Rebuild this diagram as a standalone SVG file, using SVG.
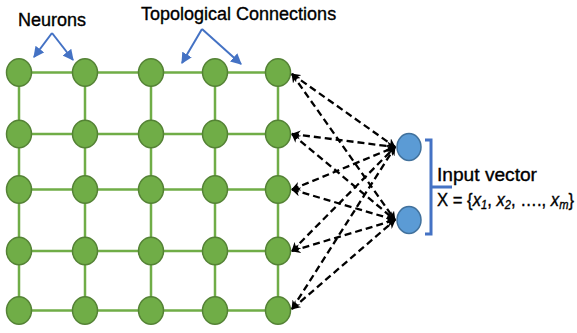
<svg xmlns="http://www.w3.org/2000/svg" width="577" height="333" viewBox="0 0 577 333">
<style>
.grid{stroke:#70AD47;stroke-width:2.5;fill:none}
.n{fill:#70AD47;stroke:#548235;stroke-width:1.5}
.in{fill:#5B9BD5;stroke:#41719C;stroke-width:1.5}
.d{stroke:#000;stroke-width:2.3;stroke-dasharray:7,4;fill:none;marker-start:url(#ah);marker-end:url(#ah)}
.b{stroke:#4472C4;stroke-width:2;fill:none;marker-end:url(#ba)}
.t{font-family:"Liberation Sans",Arial,sans-serif;font-size:18px;fill:#000;stroke:#000;stroke-width:0.35}
</style>
<defs>
<marker id="ah" viewBox="0 0 10 10" refX="9" refY="5" markerWidth="4" markerHeight="4" orient="auto-start-reverse" markerUnits="strokeWidth">
<path d="M0,0 L10,5 L0,10 L3,5 Z" fill="#000"/>
</marker>
<marker id="ba" viewBox="0 0 10 10" refX="9" refY="5" markerWidth="5.5" markerHeight="5.5" orient="auto" markerUnits="strokeWidth">
<path d="M0,0 L10,5 L0,10 Z" fill="#4472C4"/>
</marker>
</defs>
<g id="grid-lines">
<path class="grid" d="M19,72.5H278M19,134H278M19,189.5H278M19,251H278M19,310.5H278"/>
<path class="grid" d="M19,72.5V310.5M85,72.5V310.5M151,72.5V310.5M215,72.5V310.5M278,72.5V310.5"/>
</g>
<g id="connectors">
<line class="d" x1="292" y1="74" x2="395" y2="147"/>
<line class="d" x1="292" y1="74" x2="395" y2="220"/>
<line class="d" x1="292" y1="134" x2="395" y2="147"/>
<line class="d" x1="292" y1="134" x2="395" y2="220"/>
<line class="d" x1="292" y1="189.5" x2="395" y2="147"/>
<line class="d" x1="292" y1="189.5" x2="395" y2="220"/>
<line class="d" x1="292" y1="251" x2="395" y2="147"/>
<line class="d" x1="292" y1="251" x2="395" y2="220"/>
<line class="d" x1="292" y1="309" x2="395" y2="147"/>
<line class="d" x1="292" y1="309" x2="395" y2="220"/>
<path class="b" d="M52,33L34,57"/>
<path class="b" d="M52,33L73,60"/>
<path class="b" d="M202,29L182,63"/>
<path class="b" d="M202,29L241,64"/>
</g>
<g id="neurons">
<ellipse class="n" cx="19" cy="72.5" rx="12.5" ry="13.7"/>
<ellipse class="n" cx="85" cy="72.5" rx="12.5" ry="13.7"/>
<ellipse class="n" cx="151" cy="72.5" rx="12.5" ry="13.7"/>
<ellipse class="n" cx="215" cy="72.5" rx="12.5" ry="13.7"/>
<ellipse class="n" cx="278" cy="72.5" rx="12.5" ry="13.7"/>
<ellipse class="n" cx="19" cy="134" rx="12.5" ry="13.7"/>
<ellipse class="n" cx="85" cy="134" rx="12.5" ry="13.7"/>
<ellipse class="n" cx="151" cy="134" rx="12.5" ry="13.7"/>
<ellipse class="n" cx="215" cy="134" rx="12.5" ry="13.7"/>
<ellipse class="n" cx="278" cy="134" rx="12.5" ry="13.7"/>
<ellipse class="n" cx="19" cy="189.5" rx="12.5" ry="13.7"/>
<ellipse class="n" cx="85" cy="189.5" rx="12.5" ry="13.7"/>
<ellipse class="n" cx="151" cy="189.5" rx="12.5" ry="13.7"/>
<ellipse class="n" cx="215" cy="189.5" rx="12.5" ry="13.7"/>
<ellipse class="n" cx="278" cy="189.5" rx="12.5" ry="13.7"/>
<ellipse class="n" cx="19" cy="251" rx="12.5" ry="13.7"/>
<ellipse class="n" cx="85" cy="251" rx="12.5" ry="13.7"/>
<ellipse class="n" cx="151" cy="251" rx="12.5" ry="13.7"/>
<ellipse class="n" cx="215" cy="251" rx="12.5" ry="13.7"/>
<ellipse class="n" cx="278" cy="251" rx="12.5" ry="13.7"/>
<ellipse class="n" cx="19" cy="310.5" rx="12.5" ry="13.7"/>
<ellipse class="n" cx="85" cy="310.5" rx="12.5" ry="13.7"/>
<ellipse class="n" cx="151" cy="310.5" rx="12.5" ry="13.7"/>
<ellipse class="n" cx="215" cy="310.5" rx="12.5" ry="13.7"/>
<ellipse class="n" cx="278" cy="310.5" rx="12.5" ry="13.7"/>
</g>
<g id="inputs">
<ellipse class="in" cx="409" cy="147" rx="12" ry="13.5"/>
<ellipse class="in" cx="409" cy="220" rx="12" ry="13.5"/>
</g>
<g id="bracket">
<path d="M425,140H431V234H425M431,187H452" stroke="#4472C4" stroke-width="3" fill="none"/>
</g>
<g id="labels">
<text class="t" x="18" y="26">Neurons</text>
<text class="t" x="141" y="19.5">Topological Connections</text>
<text class="t" x="437" y="181" textLength="100" lengthAdjust="spacingAndGlyphs">Input vector</text>
<text class="t" x="437" y="206" textLength="137" lengthAdjust="spacingAndGlyphs">X = {<tspan font-style="italic">x</tspan><tspan font-style="italic" font-size="12" dy="3">1</tspan><tspan dy="-3">, </tspan><tspan font-style="italic">x</tspan><tspan font-style="italic" font-size="12" dy="3">2</tspan><tspan dy="-3">, …., </tspan><tspan font-style="italic">x</tspan><tspan font-style="italic" font-size="12" dy="3">m</tspan><tspan dy="-3">}</tspan></text>
</g>
</svg>
